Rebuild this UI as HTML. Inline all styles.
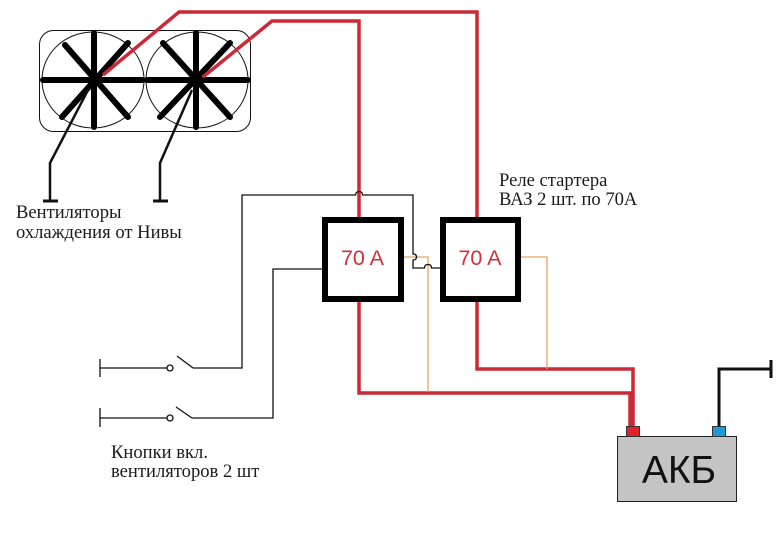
<!DOCTYPE html>
<html>
<head>
<meta charset="utf-8">
<style>
html,body{margin:0;padding:0;background:#fff;}
svg{display:block;}
.serif{font-family:"Liberation Serif","DejaVu Serif",serif;font-size:18.6px;fill:#1a1a1a;}
.sans{font-family:"Liberation Sans","DejaVu Sans",sans-serif;}
</style>
</head>
<body>
<svg width="784" height="540" viewBox="0 0 784 540" xmlns="http://www.w3.org/2000/svg">
<rect x="0" y="0" width="784" height="540" fill="#fff"/>

<!-- fan housing -->
<rect x="39.5" y="30.5" width="211" height="101" rx="14" ry="14" fill="none" stroke="#111" stroke-width="1"/>
<ellipse cx="93" cy="80" rx="51" ry="48" fill="none" stroke="#111" stroke-width="1"/>
<ellipse cx="197" cy="80" rx="51" ry="48" fill="none" stroke="#111" stroke-width="1"/>

<!-- fan spokes -->
<g stroke="#000" stroke-width="6" stroke-linecap="round">
  <line x1="43" y1="80" x2="143" y2="80"/>
  <line x1="94" y1="33" x2="94" y2="127"/>
  <line x1="62" y1="117" x2="128" y2="43"/>
  <line x1="65" y1="45" x2="128" y2="117"/>
  <line x1="147" y1="80" x2="248" y2="80"/>
  <line x1="196" y1="33" x2="196" y2="127"/>
  <line x1="163" y1="43" x2="230" y2="117"/>
  <line x1="160" y1="117" x2="230" y2="43"/>
</g>

<!-- fan ground wires -->
<g stroke="#111" stroke-width="2.5" fill="none">
  <polyline points="88,90 50,163 50,201"/>
  <polyline points="192,90 160,163 160,201"/>
  <line x1="43" y1="201" x2="58" y2="201" stroke-width="3"/>
  <line x1="153" y1="201" x2="168" y2="201" stroke-width="3"/>
</g>

<!-- red power wires -->
<g stroke="#cc2936" stroke-width="3.5" fill="none" stroke-linejoin="miter">
  <polyline points="103,75 179,12 477,12 477,218"/>
  <polyline points="477,302 477,369 633,369 633,428"/>
  <polyline points="203,77 272,21 359,21 359,218"/>
  <polyline points="359,302 359,393 630,393 630,428"/>
</g>

<!-- orange wires -->
<g stroke="#e9a560" stroke-width="1.3" fill="none">
  <polyline points="404,257 428,257 428,392"/>
  <polyline points="521,257 547,257 547,369"/>
</g>

<!-- thin black control wires -->
<g stroke="#111" stroke-width="1.3" fill="none">
  <path d="M193,368 L242,368 L242,195 L355.5,195 Q356,191.5 359,191.5 Q362.5,191.5 362.5,195 L413,195 L413,254 Q416.5,254 416.5,257 Q416.5,260 413,260 L413,268 L424.5,268 Q424.5,264.5 428,264.5 Q431.5,264.5 431.5,268 L440,268"/>
  <polyline points="192,418 273,418 273,269 322,269"/>
  <line x1="100" y1="368" x2="167" y2="368"/>
  <line x1="100" y1="359" x2="100" y2="377"/>
  <circle cx="170" cy="368" r="3"/>
  <line x1="177" y1="356" x2="193" y2="368"/>
  <line x1="100" y1="418" x2="167" y2="418"/>
  <line x1="100" y1="408" x2="100" y2="427"/>
  <circle cx="170" cy="418" r="3"/>
  <line x1="176" y1="407" x2="192" y2="418"/>
</g>

<!-- relays -->
<rect x="325" y="220" width="76" height="79" fill="#fff" stroke="#000" stroke-width="6"/>
<rect x="443" y="220" width="75" height="79" fill="#fff" stroke="#000" stroke-width="6"/>
<text x="362.5" y="265" text-anchor="middle" class="sans" font-size="21.5" fill="#d0303a">70 A</text>
<text x="480" y="265" text-anchor="middle" class="sans" font-size="21.5" fill="#d0303a">70 A</text>

<!-- battery -->
<rect x="617.5" y="436.5" width="119" height="65" fill="#c4c4c4" stroke="#222" stroke-width="1"/>
<rect x="626.5" y="426.5" width="13" height="10" fill="#e3202c" stroke="#333" stroke-width="1"/>
<rect x="712.5" y="426.5" width="13" height="10" fill="#1e9ad8" stroke="#333" stroke-width="1"/>
<polyline points="719,426 719,369 771,369" stroke="#111" stroke-width="3" fill="none"/>
<line x1="771" y1="360" x2="771" y2="378" stroke="#111" stroke-width="3"/>
<text x="679" y="483" text-anchor="middle" class="sans" font-size="39" fill="#111">АКБ</text>

<!-- labels -->
<text x="16" y="218" class="serif">Вентиляторы</text>
<text x="16" y="238" class="serif">охлаждения от Нивы</text>
<text x="499" y="186" class="serif">Реле стартера</text>
<text x="499" y="205" class="serif">ВАЗ 2 шт. по 70А</text>
<text x="111" y="458" class="serif">Кнопки вкл.</text>
<text x="111" y="477" class="serif">вентиляторов 2 шт</text>
</svg>
</body>
</html>
